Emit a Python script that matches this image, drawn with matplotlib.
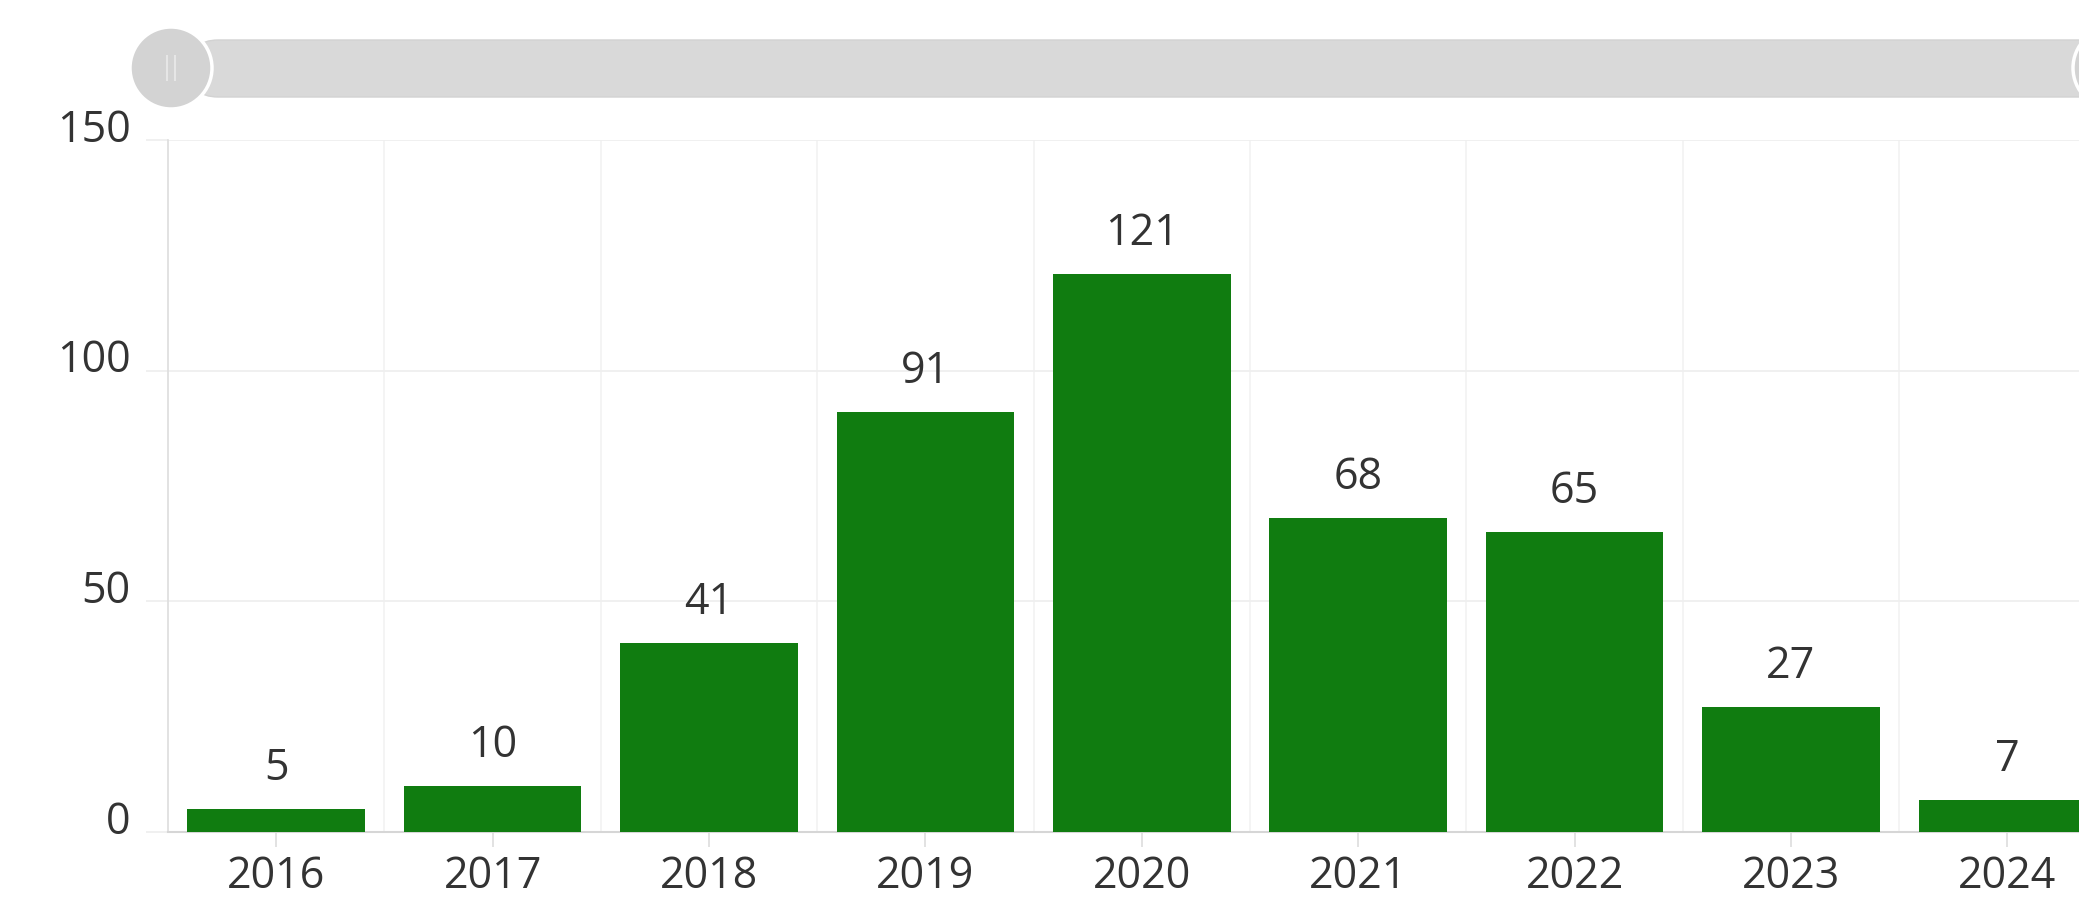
import matplotlib.pyplot as plt
import matplotlib.patches as mpatches
from matplotlib.ticker import FixedLocator
from matplotlib.transforms import ScaledTranslation

years = ['2016', '2017', '2018', '2019', '2020', '2021', '2022', '2023', '2024']
counts = [5, 10, 41, 91, 121, 68, 65, 27, 7]
yticks = [0, 50, 100, 150]

plt.rcParams['font.family'] = ['Open Sans', 'DejaVu Sans']

W, H = 2079, 898
fig = plt.figure(figsize=(W / 100, H / 100), dpi=100)

# category band is ~216 px wide, the last band runs past the right edge
band = 216.4
left, top, base = 168, 140, 832
ax = fig.add_axes([left / W, (H - base) / H, 9 * band / W, (base - top) / H])

xs = range(len(years))
ax.bar(xs, counts, width=0.82, color='#107c10', zorder=3)
for x, v in zip(xs, counts):
    ax.annotate(str(v), (x, v), xytext=(0, 21), textcoords='offset points',
                ha='center', va='baseline', fontsize=31, color='#333333')

ax.set_xlim(-0.5, len(years) - 0.5)
ax.set_ylim(0, 150)
ax.set_xticks(list(xs))
ax.set_xticklabels(years)
ax.set_yticks(yticks)
ax.xaxis.set_minor_locator(FixedLocator([i + 0.5 for i in range(len(years))]))

ax.grid(axis='y', which='major', color='#eeeeee', lw=1.2, zorder=0)
ax.grid(axis='x', which='minor', color='#f2f2f2', lw=1.2, zorder=0)
ax.tick_params(axis='x', which='major', length=11, width=1.2, color='#dddddd',
               labelsize=31, labelcolor='#333333', pad=5)
ax.tick_params(axis='x', which='minor', length=0)
ax.tick_params(axis='y', length=16, width=1.2, color='#eeeeee',
               labelsize=31, labelcolor='#333333', pad=11)
# y labels sit a little above their grid lines
for lbl in ax.get_yticklabels():
    lbl.set_transform(lbl.get_transform() + ScaledTranslation(0, 0.15, fig.dpi_scale_trans))

for s in ['top', 'right']:
    ax.spines[s].set_visible(False)
ax.spines['left'].set_color('#dddddd')
ax.spines['left'].set_linewidth(1.2)
ax.spines['bottom'].set_color('#d6d6d6')
ax.spines['bottom'].set_linewidth(1.5)

# zoom slider on top, drawn in pixel units
ov = fig.add_axes([0, 0, 1, 1], zorder=5)
ov.set_xlim(0, W)
ov.set_ylim(H, 0)
ov.axis('off')
ov.patch.set_alpha(0)
track = mpatches.FancyBboxPatch((190, 40), 1930, 57,
                                boxstyle='round,pad=0,rounding_size=28',
                                fc='#d9d9d9', ec='#d2d2d2', lw=1)
ov.add_patch(track)
for cx in [171, 2114]:
    ov.add_patch(mpatches.Circle((cx, 68), 41, fc='#d3d3d3', ec='white', lw=2.5))
    ov.plot([cx - 4, cx - 4], [56, 80], color='#e6e6e6', lw=1.5)
    ov.plot([cx + 4, cx + 4], [56, 80], color='#e6e6e6', lw=1.5)

fig.savefig('out.png', dpi=100)
